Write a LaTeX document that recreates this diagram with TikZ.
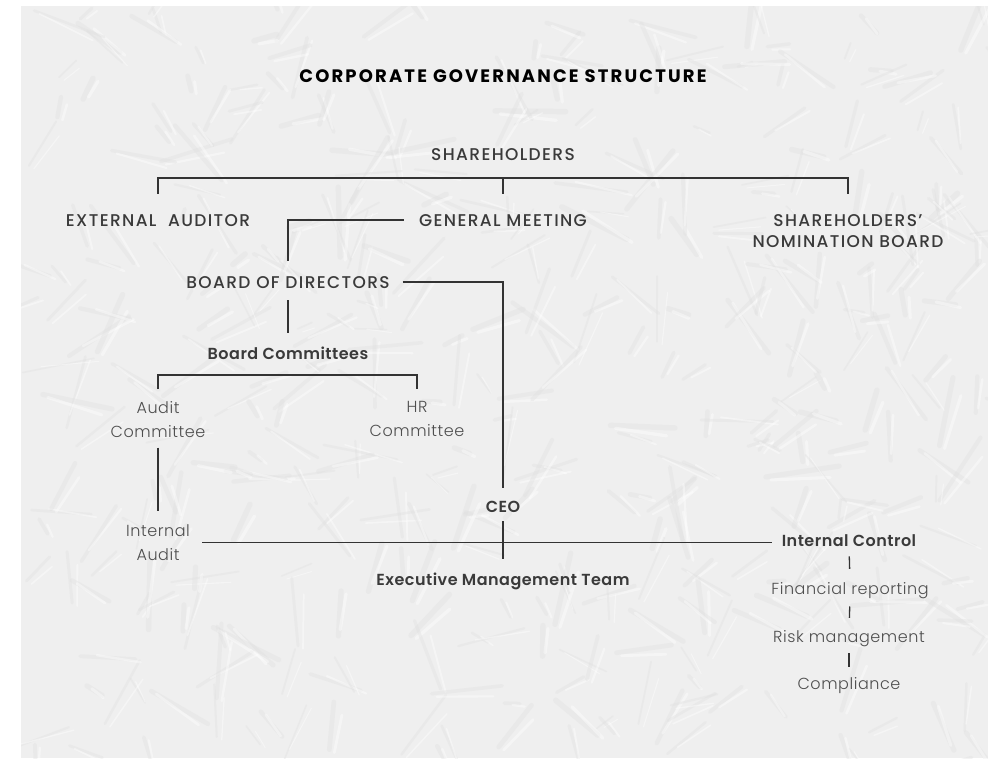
\documentclass[tikz,border=0pt]{standalone}
\usepackage{fontspec}
\setmainfont{Poppins}
\newfontfamily\popbold{Poppins Bold}[LetterSpace=12]
\newfontfamily\popsemi{Poppins SemiBold}[LetterSpace=3]
\newfontfamily\popmed{Poppins Medium}[LetterSpace=8]
\newfontfamily\poplight{Poppins Light}[LetterSpace=3.5]
\definecolor{board}{RGB}{239,239,239}
\definecolor{chip}{RGB}{222,222,222}
\definecolor{ink}{RGB}{58,58,58}
\definecolor{inklight}{RGB}{78,78,78}

\begin{document}
\begin{tikzpicture}[x=1pt,y=-1pt,
	title/.style={font=\popbold\fontsize{18}{20}\selectfont, text=black, inner sep=0pt, anchor=base},
	upper/.style={font=\popmed\fontsize{17}{21}\selectfont, text=ink, inner sep=0pt, anchor=base},
	semi/.style={font=\popsemi\fontsize{16}{20}\selectfont, text=ink, inner sep=0pt, anchor=base},
	thin/.style={font=\poplight\fontsize{16}{24}\selectfont, text=inklight, inner sep=0pt, align=center},
	link/.style={line width=1.3pt, black!80}]
	\useasboundingbox (0,0) rectangle (988,758);
	\fill[board] (21,6) rectangle (988,758);
	% chipboard texture
	\begin{scope}
		\clip (21,6) rectangle (988,758);
		\pgfmathsetseed{42}
		\foreach \i in {1,...,420} {
			\pgfmathsetmacro{\px}{21+967*rnd}
			\pgfmathsetmacro{\py}{6+752*rnd}
			\pgfmathsetmacro{\pa}{360*rnd}
			\pgfmathsetmacro{\pl}{15+60*rnd}
			\pgfmathsetmacro{\pw}{1.5+4*rnd}
			\draw[chip, line width=\pw pt, opacity=0.35, line cap=round] (\px,\py) -- ++(\pa:\pl);
			\draw[white, line width=0.6*\pw pt, opacity=0.4, line cap=round] (\px+5,\py+3) -- ++(\pa+6:0.8*\pl);
		}
	\end{scope}

	\node[title] (head) at (503,82) {CORPORATE GOVERNANCE STRUCTURE};
	\node[upper] (sh) at (503,160) {SHAREHOLDERS};
	\node[upper] (ext) at (158,226) {EXTERNAL\ \ AUDITOR};
	\node[upper] (gm) at (503,226) {GENERAL MEETING};
	\node[upper, align=center, anchor=north, font=\popmed\fontsize{17}{21.5}\selectfont] (snb) at (848,214) {SHAREHOLDERS’\\NOMINATION BOARD};
	\node[upper] (bod) at (288,288) {BOARD OF DIRECTORS};
	\node[semi] (bc) at (288,359) {Board Committees};
	\node[thin, anchor=north] (ac) at (158,401) {Audit\\Committee};
	\node[thin, anchor=north] (hr) at (417,401) {HR\\Committee};
	\node[thin, anchor=north] (ia) at (158,524) {Internal\\Audit};
	\node[semi] (ceo) at (503,512) {CEO};
	\node[semi] (emt) at (503,585) {Executive Management Team};
	\node[semi] (ic) at (849,546) {Internal Control};
	\node[thin, anchor=base] (fr) at (850,594) {Financial reporting};
	\node[thin, anchor=base] (rm) at (849,642) {Risk management};
	\node[thin, anchor=base] (co) at (849,689) {Compliance};

	\coordinate (top) at (503,178);
	\coordinate (split) at (288,375);

	% shareholders
	\draw[link, shorten <=20pt, shorten >=20pt] (ext.north) |- (top) -| (snb.north);
	\draw[link, shorten >=20pt] (top) -- (gm.north);
	% board
	\draw[link, shorten <=15pt, shorten >=15pt] (gm.west) -| (bod.north);
	\draw[link, shorten <=13pt, shorten >=12pt] (bod.east) -| (ceo.north);
	\draw[link, shorten <=12pt, shorten >=13pt] (bod.south) -- (bc.north);
	\draw[link, shorten <=12pt, shorten >=12pt] (ac.north) |- (split) -| (hr.north);
	\draw[link, shorten <=10pt, shorten >=13pt] (ac.south) -- (ia.north);
	% management
	\draw[link, shorten <=12pt, shorten >=10pt] (ia.east) -- (ia.east -| ic.west);
	\draw[link, shorten <=9pt, shorten >=13pt] (ceo.south) -- (emt.north);
	% internal control
	\draw[link, shorten <=10pt, shorten >=13pt] (ic.south) -- (fr.north);
	\draw[link, shorten <=8pt, shorten >=12pt] (fr.south) -- (rm.north);
	\draw[link, shorten <=7pt, shorten >=10pt] (rm.south) -- (co.north);
\end{tikzpicture}
\end{document}
